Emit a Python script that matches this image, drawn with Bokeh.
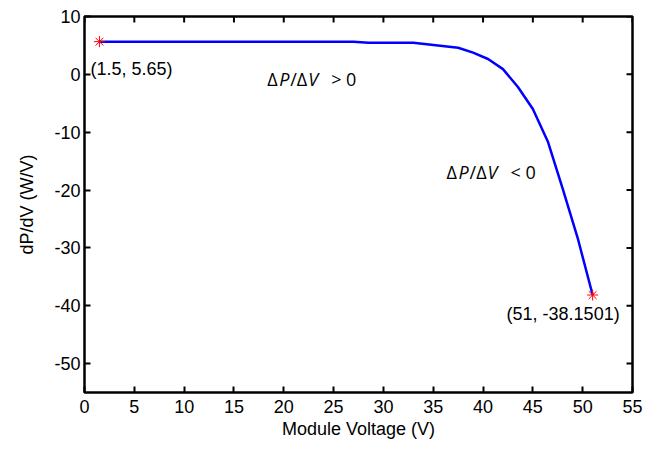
import math
from bokeh.plotting import figure
from bokeh.models import FixedTicker, Label, Range1d
from bokeh.embed import file_html
from bokeh.resources import INLINE

# Data
voltage = [1.5, 27.0, 28.5, 33.0, 37.5, 39.0, 40.5, 42.0, 43.5, 45.0, 46.5, 48.0, 49.5, 51.0]
dpdv = [5.65, 5.65, 5.45, 5.45, 4.6, 3.75, 2.65, 0.9, -2.2, -6.0, -11.6, -19.8, -28.3, -38.1501]

marked_v = [1.5, 51.0]
marked_p = [5.65, -38.1501]
marked_labels = ["(1.5, 5.65)", "(51, -38.1501)"]

x_ticks = [0, 5, 10, 15, 20, 25, 30, 35, 40, 45, 50, 55]
y_ticks = [-50, -40, -30, -20, -10, 0, 10]
y_tick_labels = ["-50", "-40", "-30", "-20", "-10", "0", "10"]

AX_FONT = "Liberation Sans"
FS = "18px"

p = figure(width=656, height=448, output_backend="svg", toolbar_location=None,
           x_range=Range1d(0, 55), y_range=Range1d(-55, 10),
           min_border_left=84, min_border_right=24, min_border_top=16, min_border_bottom=56)
p.xgrid.visible = False
p.ygrid.visible = False
p.outline_line_color = "black"
p.outline_line_width = 2.5
p.background_fill_color = "white"
p.border_fill_color = "white"

for ax in (p.xaxis[0], p.yaxis[0]):
    ax.axis_line_color = None
    ax.major_tick_in = 6
    ax.major_tick_out = 0
    ax.major_tick_line_width = 2
    ax.minor_tick_line_color = None
    ax.major_label_text_font = AX_FONT
    ax.major_label_text_font_size = FS
    ax.major_label_text_color = "black"
    ax.axis_label_text_font = AX_FONT
    ax.axis_label_text_font_size = FS
    ax.axis_label_text_font_style = "normal"
    ax.axis_label_text_color = "black"

p.xaxis[0].ticker = FixedTicker(ticks=x_ticks)
p.yaxis[0].ticker = FixedTicker(ticks=y_ticks)
p.yaxis[0].major_label_overrides = {t: s for t, s in zip(y_ticks, y_tick_labels)}
p.xaxis[0].axis_label = "Module Voltage (V)"
p.yaxis[0].axis_label = "dP/dV (W/V)"
p.xaxis[0].major_label_standoff = 7
p.xaxis[0].axis_label_standoff = 3
p.yaxis[0].major_label_standoff = 4
p.yaxis[0].axis_label_standoff = 14

# mirrored inward ticks on top and right edges (half of each dash is clipped by the frame)
p.scatter(x=x_ticks, y=[p.y_range.end] * len(x_ticks), marker="dash", angle=math.pi / 2,
          size=12, line_color="black", line_width=2)
p.scatter(x=[p.x_range.end] * len(y_ticks), y=y_ticks, marker="dash",
          size=12, line_color="black", line_width=2)

p.line(voltage, dpdv, line_color="#0000FF", line_width=2.5)
p.scatter(marked_v, marked_p, marker="asterisk", size=11, line_color="red", line_width=1)

# point annotations
p.add_layout(Label(x=marked_v[0], y=marked_p[0], text=marked_labels[0], x_offset=-9, y_offset=-27,
                   text_font=AX_FONT, text_font_size=FS, text_color="black",
                   text_baseline="middle", text_align="left"))
p.add_layout(Label(x=marked_v[1], y=marked_p[1], text=marked_labels[1], x_offset=27, y_offset=-19,
                   text_font=AX_FONT, text_font_size=FS, text_color="black",
                   text_baseline="middle", text_align="right"))

# region annotations: ΔP/ΔV > 0 and ΔP/ΔV < 0
region_pos = [(18.33, -0.8, "> 0"), (36.34, -16.9, "< 0")]
pieces = [("Δ", 0, "normal"), ("P", 12, "italic"), ("/Δ", 23, "normal"), ("V", 41, "italic")]
for rx, ry, tail in region_pos:
    for txt, off, style in pieces + [(tail, 64, "normal")]:
        p.add_layout(Label(x=rx, y=ry, text=txt, x_offset=off, text_font="Open Sans",
                           text_font_size="18px", text_font_style=style, text_color="black",
                           text_baseline="alphabetic", text_align="left"))

open("out.html", "w").write(file_html(p, INLINE))
